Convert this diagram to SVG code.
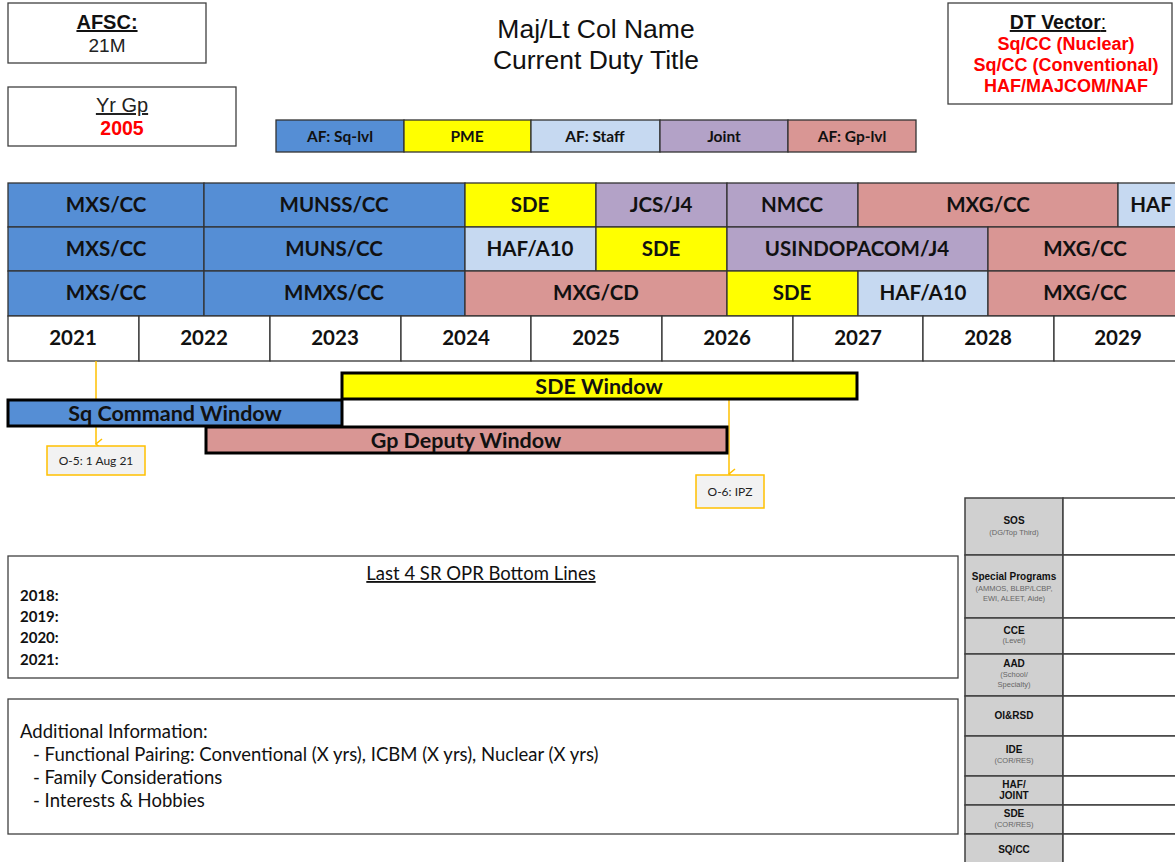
<svg xmlns="http://www.w3.org/2000/svg" width="1175" height="862" viewBox="0 0 1175 862">
<style>
.bx{fill:#fff;stroke:#404040;stroke-width:1.3}
.ar{font-family:"Liberation Sans",Arial,sans-serif}
.c{text-anchor:middle}
.g{font-family:Lato,"Open Sans",sans-serif;font-weight:bold;font-size:20.5px;text-anchor:middle;fill:#111}
.lg{font-family:Lato,"Open Sans",sans-serif;font-weight:bold;font-size:15.5px;text-anchor:middle;fill:#111}
.cell{stroke:#333;stroke-width:1.3}
.sq{fill:#558ed5}.pm{fill:#ffff00}.st{fill:#c6d9f1}.jt{fill:#b3a2c7}.gp{fill:#d99694}
.win{stroke:#000;stroke-width:3}
.wt{font-family:Lato,"Open Sans",sans-serif;font-weight:bold;font-size:21.5px;text-anchor:middle;fill:#111}
.ol{stroke:#ffc000;stroke-width:1.5;fill:none}
.ob{fill:#f2f2f2;stroke:#ffc000;stroke-width:1.5}
.ot{font-family:Lato,"Open Sans",sans-serif;font-size:12px;text-anchor:middle;fill:#222}
.tl{fill:#d0d0d0;stroke:#404040;stroke-width:1.5}
.tr{fill:#fff;stroke:#404040;stroke-width:1.5}
.th{font-family:"Liberation Sans",Arial,sans-serif;font-weight:bold;font-size:10px;text-anchor:middle;fill:#111}
.ts{font-family:"Liberation Sans",Arial,sans-serif;font-size:7.5px;text-anchor:middle;fill:#666}
.bt{font-family:Lato,"Open Sans",sans-serif;font-size:18.5px;fill:#111}
.yr{font-family:Lato,"Open Sans",sans-serif;font-size:15px;font-weight:bold;fill:#111}
</style>
<defs>
<marker id="v" viewBox="0 0 12 12" refX="6" refY="11" markerWidth="12" markerHeight="12" markerUnits="userSpaceOnUse" orient="auto-start-reverse">
<polyline points="1,5 6,11 11,5" fill="none" stroke="#ffc000" stroke-width="1.5"/>
</marker>
</defs>
<rect width="1175" height="862" fill="#fff"/>

<g id="afsc">
<rect class="bx" x="8" y="3" width="198" height="60"/>
<text class="ar c" x="107" y="29" font-size="20" font-weight="bold" text-decoration="underline" fill="#111">AFSC:</text>
<text class="ar c" x="107" y="52" font-size="19" fill="#222">21M</text>
</g>
<g id="yrgp">
<rect class="bx" x="8" y="87" width="228" height="59"/>
<text class="ar c" x="122" y="112" font-size="20" text-decoration="underline" fill="#222">Yr Gp</text>
<text class="ar c" x="122" y="135" font-size="19.5" font-weight="bold" fill="#ff0000">2005</text>
</g>
<g id="title">
<text class="ar c" x="596" y="38" font-size="26.5" fill="#111">Maj/Lt Col Name</text>
<text class="ar c" x="596" y="69" font-size="26.5" fill="#111">Current Duty Title</text>
</g>
<g id="dtvector">
<rect class="bx" x="948" y="3" width="224" height="101"/>
<text class="ar c" x="1058" y="29" font-size="19.5" font-weight="bold" fill="#111" text-decoration="underline">DT Vector<tspan font-weight="normal">:</tspan></text>
<text class="ar c" x="1066" y="50" font-size="18" font-weight="bold" fill="#ff0000">Sq/CC (Nuclear)</text>
<text class="ar c" x="1066" y="71" font-size="18" font-weight="bold" fill="#ff0000">Sq/CC (Conventional)</text>
<text class="ar c" x="1066" y="92" font-size="18" font-weight="bold" fill="#ff0000">HAF/MAJCOM/NAF</text>
</g>

<g id="legend">
<rect class="cell sq" x="276" y="120" width="128" height="32"/>
<rect class="cell pm" x="404" y="120" width="127" height="32"/>
<rect class="cell st" x="531" y="120" width="129" height="32"/>
<rect class="cell jt" x="660" y="120" width="128" height="32"/>
<rect class="cell gp" x="788" y="120" width="128" height="32"/>
<text class="lg" x="340" y="141.5">AF: Sq-lvl</text>
<text class="lg" x="467" y="141.5">PME</text>
<text class="lg" x="595" y="141.5">AF: Staff</text>
<text class="lg" x="724" y="141.5">Joint</text>
<text class="lg" x="852" y="141.5">AF: Gp-lvl</text>
</g>

<g id="row1">
<rect class="cell sq" x="8" y="183" width="196" height="44"/><text class="g" x="106" y="212">MXS/CC</text>
<rect class="cell sq" x="204" y="183" width="261" height="44"/><text class="g" x="334" y="212">MUNSS/CC</text>
<rect class="cell pm" x="465" y="183" width="131" height="44"/><text class="g" x="530" y="212">SDE</text>
<rect class="cell jt" x="596" y="183" width="131" height="44"/><text class="g" x="661" y="212">JCS/J4</text>
<rect class="cell jt" x="727" y="183" width="131" height="44"/><text class="g" x="792" y="212">NMCC</text>
<rect class="cell gp" x="858" y="183" width="260" height="44"/><text class="g" x="988" y="212">MXG/CC</text>
<rect class="cell st" x="1118" y="183" width="70" height="44"/><text class="g" x="1151" y="212">HAF</text>
</g>
<g id="row2">
<rect class="cell sq" x="8" y="227" width="196" height="44"/><text class="g" x="106" y="256">MXS/CC</text>
<rect class="cell sq" x="204" y="227" width="261" height="44"/><text class="g" x="334" y="256">MUNS/CC</text>
<rect class="cell st" x="465" y="227" width="131" height="44"/><text class="g" x="530" y="256">HAF/A10</text>
<rect class="cell pm" x="596" y="227" width="131" height="44"/><text class="g" x="661" y="256">SDE</text>
<rect class="cell jt" x="727" y="227" width="261" height="44"/><text class="g" x="857" y="256">USINDOPACOM/J4</text>
<rect class="cell gp" x="988" y="227" width="200" height="44"/><text class="g" x="1085" y="256">MXG/CC</text>
</g>
<g id="row3">
<rect class="cell sq" x="8" y="271" width="196" height="45"/><text class="g" x="106" y="300">MXS/CC</text>
<rect class="cell sq" x="204" y="271" width="261" height="45"/><text class="g" x="334" y="300">MMXS/CC</text>
<rect class="cell gp" x="465" y="271" width="262" height="45"/><text class="g" x="596" y="300">MXG/CD</text>
<rect class="cell pm" x="727" y="271" width="131" height="45"/><text class="g" x="792" y="300">SDE</text>
<rect class="cell st" x="858" y="271" width="130" height="45"/><text class="g" x="923" y="300">HAF/A10</text>
<rect class="cell gp" x="988" y="271" width="200" height="45"/><text class="g" x="1085" y="300">MXG/CC</text>
</g>
<g id="years">
<rect class="cell" fill="#fff" x="8" y="316" width="131" height="45"/><text class="g" x="73" y="345">2021</text>
<rect class="cell" fill="#fff" x="139" y="316" width="131" height="45"/><text class="g" x="204" y="345">2022</text>
<rect class="cell" fill="#fff" x="270" y="316" width="131" height="45"/><text class="g" x="335" y="345">2023</text>
<rect class="cell" fill="#fff" x="401" y="316" width="130" height="45"/><text class="g" x="466" y="345">2024</text>
<rect class="cell" fill="#fff" x="531" y="316" width="131" height="45"/><text class="g" x="596" y="345">2025</text>
<rect class="cell" fill="#fff" x="662" y="316" width="131" height="45"/><text class="g" x="727" y="345">2026</text>
<rect class="cell" fill="#fff" x="793" y="316" width="130" height="45"/><text class="g" x="858" y="345">2027</text>
<rect class="cell" fill="#fff" x="923" y="316" width="131" height="45"/><text class="g" x="988" y="345">2028</text>
<rect class="cell" fill="#fff" x="1054" y="316" width="134" height="45"/><text class="g" x="1118" y="345">2029</text>
</g>

<g id="connectors">
<line class="ol" x1="96" y1="361" x2="96" y2="444" marker-end="url(#v)"/>
<line class="ol" x1="729" y1="399" x2="729" y2="474" marker-end="url(#v)"/>
</g>

<g id="sde-window">
<rect class="win pm" x="342" y="373" width="515" height="26"/>
<text class="wt" x="599" y="393.5">SDE Window</text>
</g>
<g id="sq-window">
<rect class="win sq" x="8" y="400" width="334" height="26"/>
<text class="wt" x="175" y="420.5">Sq Command Window</text>
</g>
<g id="gp-window">
<rect class="win gp" x="206" y="427" width="521" height="26"/>
<text class="wt" x="466" y="447.5">Gp Deputy Window</text>
</g>

<g id="o5">
<rect class="ob" x="47" y="446" width="98" height="29"/>
<text class="ot" x="96" y="465">O-5: 1 Aug 21</text>
</g>
<g id="o6">
<rect class="ob" x="696" y="475" width="68" height="33"/>
<text class="ot" x="730" y="496">O-6: IPZ</text>
</g>

<g id="opr">
<rect class="bx" x="8" y="556" width="950" height="122"/>
<text class="bt c" x="481" y="580" text-decoration="underline">Last 4 SR OPR Bottom Lines</text>
<text class="yr" x="20" y="601">2018:</text>
<text class="yr" x="20" y="622">2019:</text>
<text class="yr" x="20" y="643">2020:</text>
<text class="yr" x="20" y="665">2021:</text>
</g>
<g id="addinfo">
<rect class="bx" x="8" y="699" width="950" height="135"/>
<text class="bt" x="20" y="738">Additional Information:</text>
<text class="bt" x="33" y="761">- Functional Pairing: Conventional (X yrs), ICBM (X yrs), Nuclear (X yrs)</text>
<text class="bt" x="33" y="784">- Family Considerations</text>
<text class="bt" x="33" y="807">- Interests &amp; Hobbies</text>
</g>

<g id="table">
<rect class="tl" x="965" y="498" width="98" height="57"/><rect class="tr" x="1063" y="498" width="125" height="57"/>
<text class="th" x="1014" y="524" font-family="Lato,sans-serif">SOS</text><text class="ts" x="1014" y="535">(DG/Top Third)</text>
<rect class="tl" x="965" y="555" width="98" height="63"/><rect class="tr" x="1063" y="555" width="125" height="63"/>
<text class="th" x="1014" y="580" font-family="Lato,sans-serif">Special Programs</text><text class="ts" x="1014" y="591">(AMMOS, BLBP/LCBP,</text><text class="ts" x="1014" y="601">EWI, ALEET, Aide)</text>
<rect class="tl" x="965" y="618" width="98" height="36"/><rect class="tr" x="1063" y="618" width="125" height="36"/>
<text class="th" x="1014" y="634">CCE</text><text class="ts" x="1014" y="643">(Level)</text>
<rect class="tl" x="965" y="654" width="98" height="42"/><rect class="tr" x="1063" y="654" width="125" height="42"/>
<text class="th" x="1014" y="667">AAD</text><text class="ts" x="1014" y="677">(School/</text><text class="ts" x="1014" y="687">Specialty)</text>
<rect class="tl" x="965" y="696" width="98" height="40"/><rect class="tr" x="1063" y="696" width="125" height="40"/>
<text class="th" x="1014" y="719">OI&amp;RSD</text>
<rect class="tl" x="965" y="736" width="98" height="40"/><rect class="tr" x="1063" y="736" width="125" height="40"/>
<text class="th" x="1014" y="753">IDE</text><text class="ts" x="1014" y="763">(COR/RES)</text>
<rect class="tl" x="965" y="776" width="98" height="29"/><rect class="tr" x="1063" y="776" width="125" height="29"/>
<text class="th" x="1014" y="788">HAF/</text><text class="th" x="1014" y="799">JOINT</text>
<rect class="tl" x="965" y="805" width="98" height="29"/><rect class="tr" x="1063" y="805" width="125" height="29"/>
<text class="th" x="1014" y="817">SDE</text><text class="ts" x="1014" y="827">(COR/RES)</text>
<rect class="tl" x="965" y="834" width="98" height="40"/><rect class="tr" x="1063" y="834" width="125" height="40"/>
<text class="th" x="1014" y="853">SQ/CC</text>
</g>
</svg>
